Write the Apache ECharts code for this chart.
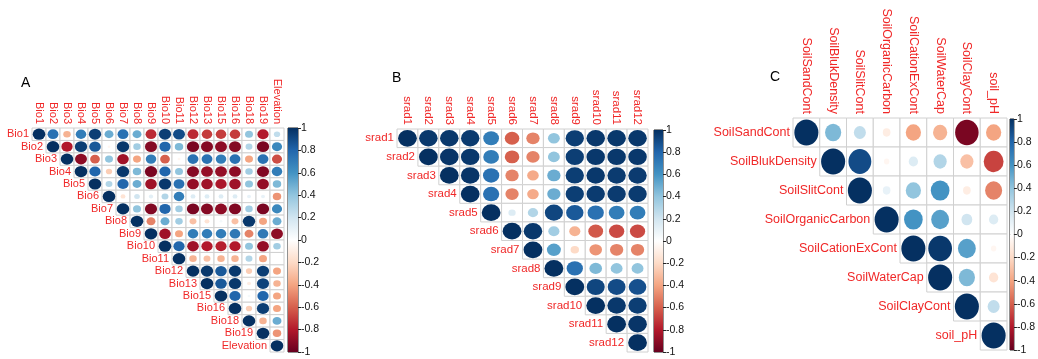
<!DOCTYPE html>
<html>
<head>
<meta charset="utf-8">
<script src="https://cdn.jsdelivr.net/npm/echarts@6/dist/echarts.min.js"></script>
<style>
html,body{margin:0;padding:0;background:#fff;}
#chart{width:1038px;height:359px;}
</style>
</head>
<body>
<div id="chart"></div>
<script>
// ---------- data ----------
const catsA = ['Bio1','Bio2','Bio3','Bio4','Bio5','Bio6','Bio7','Bio8','Bio9','Bio10','Bio11','Bio12','Bio13','Bio15','Bio16','Bio18','Bio19','Elevation'];
// upper triangle rows (row i holds r for columns i..n-1)
const corrA = [
  [1, 0.75, -0.35, 0.7, 0.95, 0.5, 0.75, 0.5, -0.75, 0.95, 0.9, -0.75, -0.7, -0.7, -0.7, 0.4, -0.8, 0.25],
  [1, -0.8, 0.95, 0.85, -0.05, 0.97, 0.35, -0.92, 0.8, 0.45, -0.95, -0.92, -0.9, -0.92, 0.3, -0.95, 0.65],
  [1, -0.9, -0.6, 0.4, -0.85, -0.4, 0.7, -0.6, -0.05, 0.75, 0.75, 0.7, 0.75, -0.4, 0.75, -0.65],
  [1, 0.8, -0.25, 0.97, 0.45, -0.95, 0.8, 0.4, -0.92, -0.88, -0.88, -0.9, 0.35, -0.93, 0.7],
  [1, 0.3, 0.8, 0.5, -0.85, 0.97, 0.75, -0.88, -0.85, -0.82, -0.85, 0.4, -0.88, 0.45],
  [1, -0.15, 0.2, 0.12, 0.3, 0.7, 0.15, 0.15, 0.15, 0.15, 0.1, 0.1, -0.45],
  [1, 0.4, -0.93, 0.8, 0.35, -0.95, -0.92, -0.9, -0.93, 0.35, -0.95, 0.65],
  [1, -0.5, 0.5, 0.35, -0.3, -0.15, 0.05, -0.3, 0.97, -0.4, 0.5],
  [1, -0.85, -0.4, 0.7, 0.7, 0.7, 0.72, -0.5, 0.72, -0.9],
  [1, 0.8, -0.85, -0.8, -0.78, -0.8, 0.4, -0.88, 0.35],
  [1, -0.35, -0.3, -0.35, -0.35, 0.3, -0.4, 0],
  [1, 0.97, 0.85, 0.97, -0.25, 0.95, -0.4],
  [1, 0.85, 0.97, -0.1, 0.93, -0.35],
  [1, 0.8, 0.05, 0.8, -0.4],
  [1, -0.25, 0.95, -0.4],
  [1, -0.35, 0.5],
  [1, -0.45],
  [1]
];
const catsB = ['srad1','srad2','srad3','srad4','srad5','srad6','srad7','srad8','srad9','srad10','srad11','srad12'];
const corrB = [
  [1, 0.97, 0.97, 0.96, 0.7, -0.6, -0.5, 0.4, 0.95, 0.97, 0.97, 0.97],
  [1, 0.98, 0.97, 0.7, -0.6, -0.5, 0.4, 0.95, 0.97, 0.97, 0.97],
  [1, 0.98, 0.75, -0.5, -0.38, 0.5, 0.95, 0.97, 0.96, 0.96],
  [1, 0.75, -0.5, -0.38, 0.5, 0.95, 0.96, 0.96, 0.96],
  [1, 0.15, 0.3, 0.92, 0.85, 0.75, 0.7, 0.7],
  [1, 0.97, 0.35, -0.35, -0.62, -0.66, -0.66],
  [1, 0.55, -0.2, -0.45, -0.5, -0.5],
  [1, 0.75, 0.45, 0.4, 0.4],
  [1, 0.92, 0.9, 0.88],
  [1, 0.97, 0.95],
  [1, 0.98],
  [1]
];
const catsC = ['SoilSandCont','SoilBlukDensity','SoilSlitCont','SoilOrganicCarbon','SoilCationExCont','SoilWaterCap','SoilClayCont','soil_pH'];
const corrC = [
  [1, 0.45, 0.25, -0.1, -0.4, -0.35, -0.95, -0.4],
  [1, 0.9, -0.05, 0.15, 0.3, -0.3, -0.68],
  [1, 0.1, 0.4, 0.6, -0.1, -0.5],
  [1, 0.6, 0.55, 0.2, 0.15],
  [1, 0.97, 0.55, -0.05],
  [1, 0.45, -0.15],
  [1, 0.25],
  [1]
];
const panelLetters = ['A', 'B', 'C'];
const legendRange = [-1, 1];
const legendStep = 0.2;

// ---------- styling / layout ----------
const palette = ['#67001F','#B2182B','#D6604D','#F4A582','#FDDBC7','#FFFFFF','#D1E5F0','#92C5DE','#4393C3','#2166AC','#053061'];
const FONT = "'Liberation Sans', Arial, sans-serif";
const RED = '#F02828';

const panels = [
  {cats: catsA, corr: corrA, grid: {left: 32, top: 128, width: 252, height: 224}, cb: {left: 288, top: 128, width: 10, height: 224}, fs: 11, letter: {left: 21, top: 76}},
  {cats: catsB, corr: corrB, grid: {left: 397, top: 129, width: 251, height: 223}, cb: {left: 654, top: 130, width: 9, height: 222}, fs: 11.5, letter: {left: 392, top: 71}},
  {cats: catsC, corr: corrC, grid: {left: 793, top: 118, width: 214, height: 232}, cb: {left: 1010, top: 119, width: 9, height: 231}, fs: 12.5, letter: {left: 770, top: 70}}
];

const grids = [], xAxes = [], yAxes = [], series = [], titles = [], scatterIdx = [];

panels.forEach((p, k) => {
  const n = p.cats.length;
  const cw = p.grid.width / n, ch = p.grid.height / n;
  const gi = grids.length;
  grids.push(Object.assign({containLabel: false}, p.grid));
  xAxes.push({
    gridIndex: gi, type: 'category', data: p.cats, position: 'top', boundaryGap: true,
    axisLine: {show: false}, axisTick: {show: false}, splitLine: {show: false},
    axisLabel: {rotate: 90, interval: 0, margin: 4, color: RED, fontSize: p.fs, fontFamily: FONT}
  });
  yAxes.push({
    gridIndex: gi, type: 'category', data: p.cats, inverse: true, boundaryGap: true,
    axisLine: {show: false}, axisTick: {show: false}, axisLabel: {show: false}, splitLine: {show: false}
  });
  // cells & circles
  const cells = [], pts = [], diag = [];
  p.corr.forEach((row, i) => {
    row.forEach((v, m) => {
      const j = i + m;
      cells.push([j, i]);
      pts.push([j, i, v]);
    });
    diag.push([i, i]);
  });
  series.push({
    type: 'custom', xAxisIndex: gi, yAxisIndex: gi, data: cells, silent: true, z: 1,
    renderItem: function (params, api) {
      const c = api.coord([api.value(0), api.value(1)]);
      const s = api.size([1, 1]);
      return {type: 'rect', shape: {x: c[0] - s[0] / 2, y: c[1] - s[1] / 2, width: s[0], height: s[1]},
        style: {fill: '#FFFFFF', stroke: '#D0D0D0', lineWidth: 1}};
    }
  });
  scatterIdx.push(series.length);
  series.push({
    type: 'scatter', xAxisIndex: gi, yAxisIndex: gi, data: pts, z: 3, silent: true,
    symbol: 'circle',
    symbolSize: function (val) {
      const f = 0.9 * Math.sqrt(Math.abs(val[2]));
      return [cw * f, ch * f];
    },
    itemStyle: {opacity: 1}
  });
  series.push({
    type: 'custom', xAxisIndex: gi, yAxisIndex: gi, data: diag, silent: true, z: 4,
    renderItem: function (params, api) {
      const c = api.coord([api.value(0), api.value(1)]);
      const s = api.size([1, 1]);
      return {type: 'text', x: c[0] - s[0] / 2 - 3, y: c[1],
        style: {text: p.cats[params.dataIndex], fill: RED, font: p.fs + 'px ' + FONT, textAlign: 'right', textVerticalAlign: 'middle'}};
    }
  });
  // colour legend
  const ci = grids.length;
  grids.push(Object.assign({show: true, borderColor: '#222', borderWidth: 1, backgroundColor: 'transparent'}, p.cb));
  xAxes.push({gridIndex: ci, type: 'category', data: ['cb'], show: false});
  yAxes.push({
    gridIndex: ci, type: 'value', min: legendRange[0], max: legendRange[1], interval: legendStep, position: 'right',
    axisLine: {show: false}, axisTick: {show: true, length: 3, lineStyle: {color: '#222'}},
    splitLine: {show: false},
    axisLabel: {margin: 3, fontSize: 10.5, color: '#111', fontFamily: FONT}
  });
  series.push({
    type: 'bar', xAxisIndex: ci, yAxisIndex: ci, stack: 'cb' + k, barWidth: '100%', silent: true,
    data: [legendRange[1]],
    itemStyle: {color: new echarts.graphic.LinearGradient(0, 0, 0, 1, [
      {offset: 0, color: palette[10]}, {offset: 0.2, color: palette[9]}, {offset: 0.4, color: palette[8]},
      {offset: 0.6, color: palette[7]}, {offset: 0.8, color: palette[6]}, {offset: 1, color: palette[5]}])}
  });
  series.push({
    type: 'bar', xAxisIndex: ci, yAxisIndex: ci, stack: 'cb' + k, barWidth: '100%', silent: true,
    data: [legendRange[0]],
    itemStyle: {color: new echarts.graphic.LinearGradient(0, 0, 0, 1, [
      {offset: 0, color: palette[5]}, {offset: 0.2, color: palette[4]}, {offset: 0.4, color: palette[3]},
      {offset: 0.6, color: palette[2]}, {offset: 0.8, color: palette[1]}, {offset: 1, color: palette[0]}])}
  });
  titles.push({text: panelLetters[k], left: p.letter.left, top: p.letter.top, padding: 0,
    textStyle: {fontSize: 14, fontWeight: 'normal', color: '#000', fontFamily: FONT}});
});

const chart = echarts.init(document.getElementById('chart'), null, {renderer: 'canvas'});
chart.setOption({
  animation: false,
  backgroundColor: '#fff',
  title: titles,
  grid: grids,
  xAxis: xAxes,
  yAxis: yAxes,
  visualMap: {
    type: 'continuous', show: false, min: -1, max: 1, dimension: 2,
    seriesIndex: scatterIdx, inRange: {color: palette}
  },
  series: series
});
</script>
</body>
</html>
